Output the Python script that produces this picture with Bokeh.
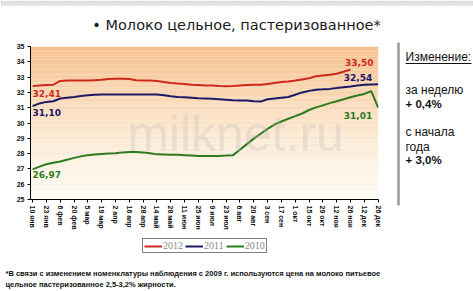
import numpy as np
from bokeh.plotting import figure
from bokeh.layouts import column, row
from bokeh.models import Range1d, FixedTicker, Label, Legend, LegendItem
from bokeh.core.properties import value
from bokeh.embed import file_html
from bokeh.resources import INLINE

# ---------------- data ----------------
tick_labels = ["10 янв", "23 янв", "6 фев", "20 фев", "5 мар", "19 мар", "2 апр",
               "16 апр", "28 апр", "14 май", "28 май", "11 июн", "25 июн", "9 июл",
               "23 июл", "6 авг", "20 авг", "3 сен", "17 сен", "1 окт", "15 окт",
               "29 окт", "12 ноя", "26 ноя", "12 дек", "26 дек"]

s2012 = [32.41, 32.45, 32.48, 32.50, 32.75, 32.78, 32.78, 32.78, 32.78, 32.80,
         32.82, 32.88, 32.90, 32.90, 32.88, 32.80, 32.78, 32.78, 32.75, 32.68,
         32.62, 32.58, 32.55, 32.50, 32.48, 32.45, 32.45, 32.42, 32.40, 32.42,
         32.45, 32.48, 32.50, 32.50, 32.55, 32.62, 32.68, 32.72, 32.78, 32.85,
         32.92, 33.05, 33.10, 33.15, 33.22, 33.35, 33.50]

s2011 = [31.10, 31.28, 31.38, 31.42, 31.60, 31.65, 31.70, 31.76, 31.82, 31.85,
         31.86, 31.86, 31.86, 31.86, 31.86, 31.86, 31.86, 31.86, 31.86, 31.82,
         31.75, 31.70, 31.68, 31.65, 31.62, 31.60, 31.58, 31.55, 31.52, 31.48,
         31.47, 31.47, 31.42, 31.40, 31.55, 31.60, 31.65, 31.70, 31.85, 32.00,
         32.10, 32.18, 32.20, 32.23, 32.28, 32.34, 32.38, 32.45, 32.50, 32.52,
         32.54]

s2010 = [26.97, 27.15, 27.30, 27.40, 27.48, 27.60, 27.72, 27.82, 27.90, 27.94,
         27.97, 28.00, 28.02, 28.08, 28.10, 28.10, 28.08, 28.02, 27.95, 27.94,
         27.92, 27.92, 27.90, 27.88, 27.85, 27.85, 27.84, 27.85, 27.87, 27.90,
         28.25, 28.62, 28.98, 29.30, 29.62, 29.90, 30.10, 30.28, 30.45, 30.62,
         30.85, 31.02, 31.15, 31.30, 31.42, 31.55, 31.68, 31.80, 31.90, 32.08,
         31.01]

series_names = ["2012", "2011", "2010"]
y_ticks = list(range(25, 36))

title_text = "• Молоко цельное, пастеризованное*"
side_texts = ["Изменение:", "за неделю", "+ 0,4%", "с начала", "года", "+ 3,0%"]
foot_lines = ["*В связи с изменением номенклатуры наблюдения с 2009 г. используются цена на молоко питьевое",
              "цельное пастеризованное 2,5-3,2% жирности."]

# ---------------- layout constants ----------------
W, H = 473, 291
TOP_H = 40          # title strip height
FOOT_H = 24         # footnote strip height
MID_H = H - TOP_H - FOOT_H
CHART_W = 395
SIDE_W = W - CHART_W
CHART_H = 193
LEG_H = MID_H - CHART_H

C12, C11, C10 = "#cc2a1a", "#1c1a66", "#2e7a1e"


def blank(w, h, xr, yr):
    f = figure(width=w, height=h, output_backend="svg", toolbar_location=None,
               x_range=Range1d(*xr), y_range=Range1d(*yr),
               x_axis_type=None, y_axis_type=None,
               min_border=0, min_border_left=0, min_border_right=0,
               min_border_top=0, min_border_bottom=0)
    f.outline_line_color = None
    f.grid.grid_line_color = None
    f.background_fill_color = "#ffffff"
    f.border_fill_color = "#ffffff"
    return f

# ---------------- title strip ----------------
top = blank(W, TOP_H, (0, W), (TOP_H, 0))
top.quad(left=[0], right=[W], top=[0], bottom=[5], fill_color="#e6e6e6",
         line_color=None, hatch_pattern="dot", hatch_color="#c4c4c4", hatch_scale=3)
top.text(x=[236], y=[24], text=[title_text], text_align="center",
         text_baseline="middle", text_font=value("DejaVu Sans"),
         text_font_size="14.5px", text_color="#1a1a1a")

# ---------------- chart ----------------
FL, FR = 30, 378
FT, FB = 46 - TOP_H, 199 - TOP_H
p = figure(width=CHART_W, height=CHART_H, output_backend="svg", toolbar_location=None,
           x_range=Range1d(-0.3, 50.05), y_range=Range1d(25, 35),
           min_border_left=FL, min_border_right=CHART_W - FR,
           min_border_top=FT, min_border_bottom=CHART_H - FB)
p.outline_line_color = None
p.background_fill_color = "#ffffff"
p.border_fill_color = "#ffffff"

n = 60
edges = np.linspace(25, 35, n + 1)
ctop = np.array([247, 192, 140])
cbot = np.array([254, 251, 243])
cols = []
for i in range(n):
    t = ((edges[i] + edges[i + 1]) / 2 - 25) / 10.0
    t = t ** 1.3
    c = cbot + (ctop - cbot) * t
    cols.append("#%02x%02x%02x" % tuple(int(round(v)) for v in c))
p.quad(left=-0.3, right=50.05, bottom=edges[:-1], top=edges[1:],
       fill_color=cols, line_color=None)

p.add_layout(Label(x=235 - FL, y=(FB + TOP_H) - 133, x_units="screen", y_units="screen",
                   text="milknet.ru", text_align="center", text_baseline="middle",
                   text_font="Liberation Sans", text_font_size="50px",
                   text_color="#bdbdbd", text_alpha=0.3))

p.xgrid.grid_line_color = None
p.ygrid.ticker = FixedTicker(ticks=y_ticks)
p.ygrid.grid_line_color = "#9a9a9a"
p.ygrid.grid_line_dash = "2 2"
p.ygrid.grid_line_alpha = 0.8

p.yaxis.ticker = FixedTicker(ticks=y_ticks)
p.xaxis.ticker = FixedTicker(ticks=list(range(0, 51, 2)))
p.xaxis.major_label_overrides = {i * 2: lab for i, lab in enumerate(tick_labels)}
p.xaxis.major_label_orientation = "vertical"
for ax in (p.xaxis, p.yaxis):
    ax.axis_line_color = "#000000"
    ax.major_tick_line_color = "#000000"
    ax.major_tick_out = 3
    ax.major_tick_in = 0
    ax.minor_tick_line_color = None
    ax.major_label_text_font = "Liberation Sans"
    ax.major_label_text_font_style = "bold"
    ax.major_label_text_font_size = "7px"
    ax.major_label_text_color = "#111111"
    ax.major_label_standoff = 3

x12 = list(range(len(s2012)))
x11 = list(range(len(s2011)))
x10 = list(range(len(s2010)))
p.line(x10, s2010, line_color=C10, line_width=2)
p.line(x11, s2011, line_color=C11, line_width=2)
p.line(x12, s2012, line_color=C12, line_width=2)


def fmt(v):
    return ("%.2f" % v).replace(".", ",")


def vlabel(x, y, txt, color, align, xo, yo):
    p.text(x=[x], y=[y], text=[txt], text_color=color, text_align=align,
           text_baseline="middle", x_offset=xo, y_offset=yo,
           text_font=value("DejaVu Sans"), text_font_style="bold",
           text_font_size="9px")


vlabel(x12[0], s2012[0], fmt(s2012[0]), C12, "left", 0, 7)
vlabel(x11[0], s2011[0], fmt(s2011[0]), C11, "left", 0, 6)
vlabel(x10[0], s2010[0], fmt(s2010[0]), C10, "left", 0, 5)
vlabel(x12[-1], s2012[-1], fmt(s2012[-1]), C12, "right", 23, -7)
vlabel(x11[-1], s2011[-1], fmt(s2011[-1]), C11, "right", -6, -7)
vlabel(x10[-1], s2010[-1], fmt(s2010[-1]), C10, "right", -6, 8)

# ---------------- legend strip ----------------
# the series are drawn here again, outside this strip's visible range,
# only so that the legend has real line renderers to show
leg = blank(CHART_W, LEG_H, (0, 1), (0, 1))
items = []
for name, col, xs, ys in zip(series_names, [C12, C11, C10],
                             [x12, x11, x10], [s2012, s2011, s2010]):
    r = leg.line(x=xs, y=ys, line_color=col, line_width=2)
    items.append(LegendItem(label=name, renderers=[r]))
legend = Legend(items=items, orientation="horizontal",
                location=(112, LEG_H - (253 - TOP_H - CHART_H)))
legend.border_line_color = "#000000"
legend.border_line_width = 1
legend.background_fill_color = "#ffffff"
legend.background_fill_alpha = 1
legend.label_text_font = "Liberation Serif"
legend.label_text_font_size = "10px"
legend.label_text_color = "#888888"
legend.glyph_width = 18
legend.glyph_height = 8
legend.label_standoff = 1
legend.label_width = 18
legend.spacing = 2
legend.padding = 1
legend.margin = 0
legend.label_height = 8
leg.add_layout(legend)

# ---------------- side panel ----------------
side = blank(SIDE_W, MID_H, (0, SIDE_W), (MID_H, 0))
side.segment(x0=[3], y0=[42 - TOP_H], x1=[3], y1=[205 - TOP_H],
             line_color="#9a9a9a", line_width=2.5)
side_y = [56, 89, 103, 131, 146, 159]
side_bold = [False, False, True, False, False, True]
for txt, yy, b in zip(side_texts, side_y, side_bold):
    side.text(x=[10], y=[yy - TOP_H], text=[txt], text_align="left",
              text_baseline="middle", text_font=value("Liberation Sans"),
              text_font_size="11.5px" if b else "12px",
              text_font_style="bold" if b else "normal", text_color="#111111")
side.segment(x0=[10], y0=[63 - TOP_H], x1=[76], y1=[63 - TOP_H],
             line_color="#111111", line_width=1)

# ---------------- footnote ----------------
foot = blank(W, FOOT_H, (0, W), (FOOT_H, 0))
for txt, yy in zip(foot_lines, [6, 17]):
    foot.text(x=[5], y=[yy], text=[txt], text_align="left", text_baseline="middle",
              text_font=value("Liberation Sans"), text_font_style="bold",
              text_font_size="7.5px", text_color="#111111")

layout = column(top, row(column(p, leg), side), foot)
open("out.html", "w").write(file_html(layout, INLINE))
